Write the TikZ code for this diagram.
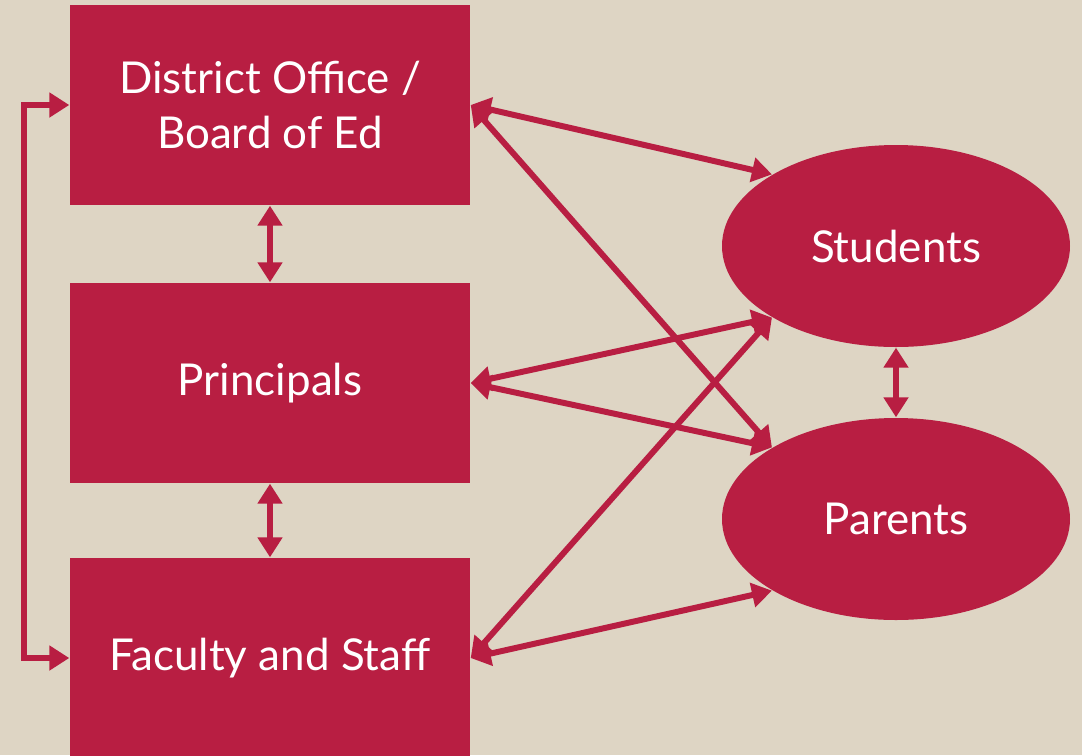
\documentclass[tikz,border=0pt]{standalone}
\usepackage{fontspec}
\setmainfont{Lato}
\usepackage{tikz}
\usetikzlibrary{arrows.meta,positioning,shapes.geometric}
\definecolor{crimsonR}{RGB}{184,30,66}
\definecolor{parchB}{RGB}{222,213,196}

\begin{document}
\begin{tikzpicture}[
  unitbox/.style={rectangle, fill=crimsonR, text=white, minimum width=4cm, minimum height=2cm,
    align=center, inner sep=2pt, font=\fontsize{12.5}{15.5}\selectfont},
  group/.style={ellipse, fill=crimsonR, text=white, minimum width=3.48cm, minimum height=2.02cm,
    inner sep=1pt, font=\fontsize{12.5}{15.5}\selectfont},
  link/.style={<->, draw=crimsonR, line width=1.7pt},
  >={Triangle[length=2mm, width=2.4mm]}]

  % page background
  \fill[parchB] (0,0) rectangle (10.82,7.55);
  \useasboundingbox (0,0) rectangle (10.82,7.55);

  % school side: three stacked boxes
  \node[unitbox] (dist) at (2.70,6.50) {District Office /\\Board of Ed};
  \node[unitbox] (prin) at (2.70,3.72) {Principals};
  \node[unitbox] (fac)  at (2.70,0.97) {Faculty and Staff};

  % families: two ellipses on the right
  \node[group] (stud) at (8.96,5.09) {Students};
  \node[group] (par)  at (8.96,2.36) {Parents};

  % chain of command
  \draw[link] (dist.south) -- (prin.north);
  \draw[link] (prin.south) -- (fac.north);
  \draw[link] (dist.west) -- ++(-0.45,0) |- (fac.west);
  \draw[link] (stud.south) -- (par.north);

  % boxes to families
  \draw[link] (dist.east) -- (stud.150);
  \draw[link] (dist.east) -- (par.150);
  \draw[link] (prin.east) -- (stud.210);
  \draw[link] (prin.east) -- (par.150);
  \draw[link] (fac.east)  -- (stud.210);
  \draw[link] (fac.east)  -- (par.210);
\end{tikzpicture}
\end{document}
